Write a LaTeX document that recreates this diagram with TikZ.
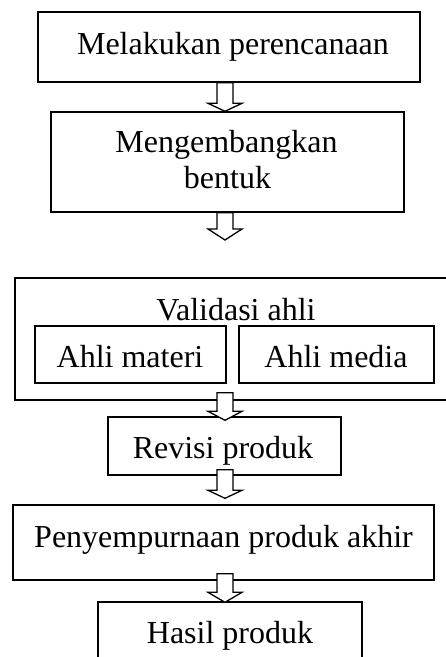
\documentclass[tikz,border=0pt]{standalone}
\usepackage{fontspec}
\setmainfont{Liberation Serif}
\usetikzlibrary{calc}
\tikzset{
  box/.style={draw=black, line width=1.4pt, inner sep=0pt, rectangle},
  txt/.style={inner sep=0pt, anchor=base, font=\fontsize{32}{38}\selectfont},
  fat/.style={draw=black, fill=white, line width=1.3pt, line join=miter}
}
\newcommand\fatarr[3]{%
  \draw[fat] let \p1=#1, \p2=#2 in
    (\x1-8pt,\y1) -- (\x1-8pt,\y2+#3) -- (\x1-17pt,\y2+#3) -- (\x1,\y2)
    -- (\x1+17pt,\y2+#3) -- (\x1+8pt,\y2+#3) -- (\x1+8pt,\y1) -- cycle;}
\begin{document}
\begin{tikzpicture}[x=1pt,y=-1pt]
\useasboundingbox (0,0) rectangle (446,657);
\clip (0,0) rectangle (446,657);
\coordinate (ax) at (225,0);
% boxes
\node[box, minimum width=382pt, minimum height=70pt] (b1) at (229,47) {};
\node[box, minimum width=353pt, minimum height=100pt] (b2) at (227.5,162) {};
\node[box, minimum width=445pt, minimum height=122pt] (b3) at (237.5,339) {};
\node[box, minimum width=191pt, minimum height=57pt] (b4) at (130.5,354.5) {};
\node[box, minimum width=195pt, minimum height=57pt] (b5) at (336.5,354.5) {};
\node[box, minimum width=233pt, minimum height=58pt] (b6) at (224.5,446) {};
\node[box, minimum width=421pt, minimum height=75pt] (b7) at (223.5,542.5) {};
\node[box, minimum width=264pt, minimum height=78pt] (b8) at (230,641) {};
\coordinate (end2) at (225,240);
% texts
\node[txt] (t1) at (233,54) {Melakukan perencanaan};
\node[txt] (t2a) at (226.5,152) {Mengembangkan};
\node[txt] (t2b) at (227.5,188) {bentuk};
\node[txt] (t3) at (236,320) {Validasi ahli};
\node[txt] (t4) at (130,367) {Ahli materi};
\node[txt] (t5) at (336,367) {Ahli media};
\node[txt] (t6) at (223,458) {Revisi produk};
\node[txt] (t7) at (223.5,547) {Penyempurnaan produk akhir};
\node[txt] (t8) at (230,643) {Hasil produk};
% arrows
\fatarr{(b1.south -| ax)}{(b2.north -| ax)}{8pt}
\fatarr{(b2.south -| ax)}{(end2)}{11pt}
\fatarr{($(b3.south -| ax)+(0,-8)$)}{($(b6.north -| ax)+(0,4)$)}{9pt}
\fatarr{($(b6.south -| ax)+(0,-6)$)}{($(b7.north -| ax)+(0,-6)$)}{8pt}
\fatarr{($(b7.south -| ax)+(0,-7)$)}{($(b8.north -| ax)+(0,1)$)}{10pt}
\end{tikzpicture}
\end{document}
